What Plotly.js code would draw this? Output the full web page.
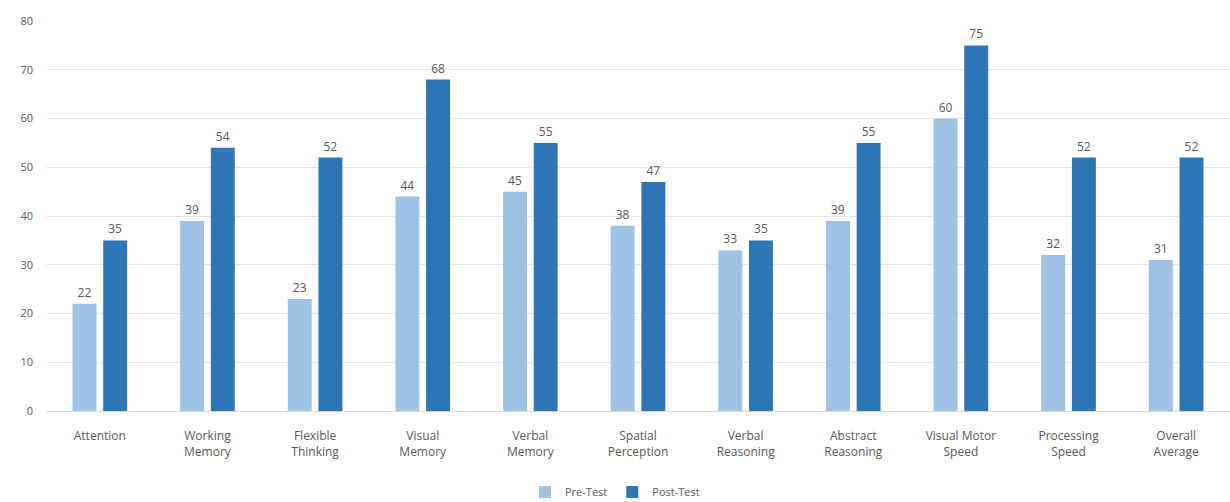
<!DOCTYPE html>
<html><head><meta charset="utf-8">
<script src="https://cdn.plot.ly/plotly-3.0.1.min.js"></script>
<style>html,body{margin:0;padding:0;background:#fff}</style>
</head><body><div id="chart" style="width:1230px;height:502px"></div>
<script>
const categories = ["Attention","Working<br>Memory","Flexible<br>Thinking","Visual<br>Memory","Verbal<br>Memory","Spatial<br>Perception","Verbal<br>Reasoning","Abstract<br>Reasoning","Visual Motor<br>Speed","Processing<br>Speed","Overall<br>Average"];
const preTest = [22,39,23,44,45,38,33,39,60,32,31];
const postTest = [35,54,52,68,55,47,35,55,75,52,52];
const yTicks = [0,10,20,30,40,50,60,70,80];

const font = {family:"Open Sans, Calibri, sans-serif", size:12, color:"#595959"};
const traces = [
  {type:"bar", name:"Pre-Test", x:categories, y:preTest, marker:{color:"#9DC3E6"},
   text:preTest.map(String), textposition:"outside", cliponaxis:false, textfont:font},
  {type:"bar", name:"Post-Test", x:categories, y:postTest, marker:{color:"#2E75B6"},
   text:postTest.map(String), textposition:"outside", cliponaxis:false, textfont:font}
];
const layout = {
  width:1230, height:502,
  margin:{l:46, r:0, t:21, b:91},
  paper_bgcolor:"#fff", plot_bgcolor:"#fff",
  font:font,
  barmode:"group", bargap:0.43, bargroupgap:0.22,
  xaxis:{tickfont:font, showline:true, linecolor:"#d9d9d9", ticks:"", automargin:false, ticklabelstandoff:14},
  yaxis:{range:[0,80], tickvals:yTicks, gridcolor:"#e6e6e6", zeroline:false, tickfont:{...font, size:11}, ticklen:0, ticks:"", automargin:false, ticklabelstandoff:12},
  legend:{orientation:"h", x:0.5, xanchor:"center", xref:"container", y:0.02, yref:"container", yanchor:"middle", font:{...font, size:11}},
  showlegend:true
};
Plotly.newPlot("chart", traces, layout, {displayModeBar:false, staticPlot:true});
</script></body></html>
